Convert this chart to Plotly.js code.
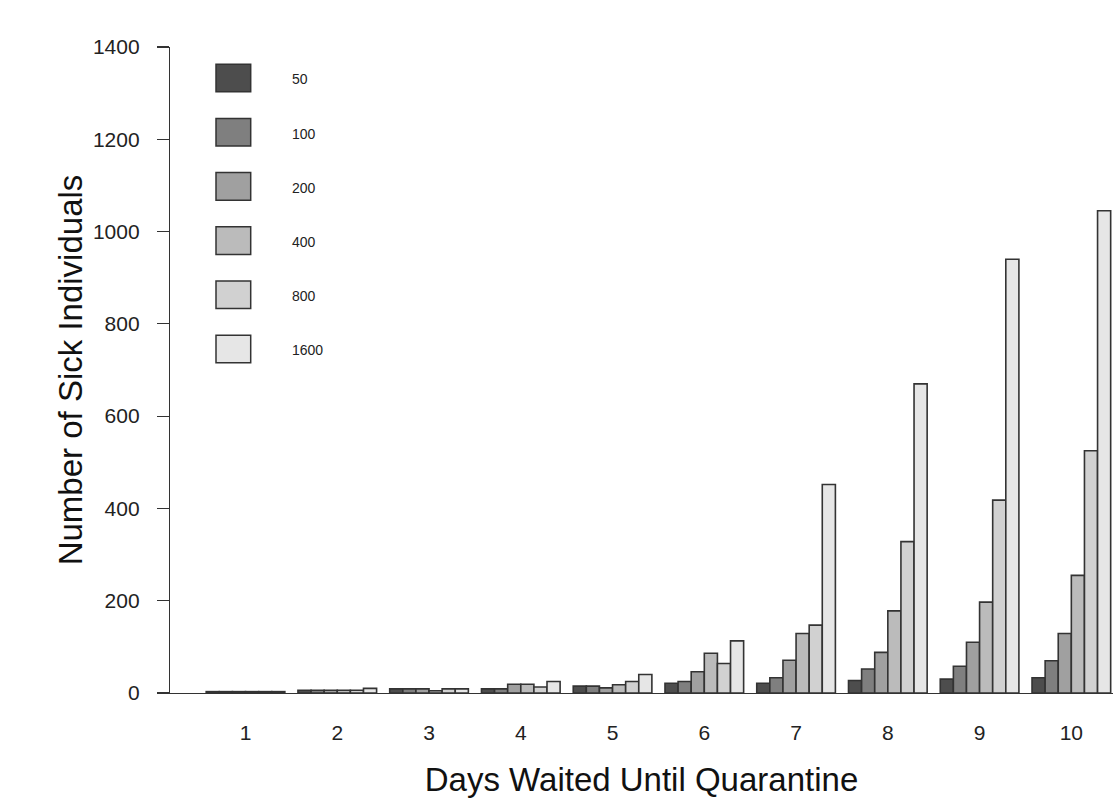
<!DOCTYPE html>
<html>
<head>
<meta charset="utf-8">
<script src="https://cdn.plot.ly/plotly-3.0.1.min.js"></script>
<style>html,body{margin:0;padding:0;background:#fff;overflow:hidden}</style>
</head>
<body>
<div id="chart" style="width:1113px;height:801px"></div>
<script>
// ---- data ----
const days = [1, 2, 3, 4, 5, 6, 7, 8, 9, 10];
const dayLabels = ["1", "2", "3", "4", "5", "6", "7", "8", "9", "10"];
const seriesNames = ["50", "100", "200", "400", "800", "1600"];
const s50   = [3, 6, 9, 9, 15, 21, 21, 27, 30, 33];
const s100  = [3, 6, 9, 9, 15, 25, 33, 52, 58, 70];
const s200  = [3, 6, 9, 19, 11, 46, 71, 88, 110, 129];
const s400  = [3, 6, 5, 19, 18, 86, 129, 178, 197, 255];
const s800  = [3, 6, 9, 13, 25, 64, 147, 328, 418, 525];
const s1600 = [3, 10, 9, 25, 40, 113, 452, 670, 940, 1045];
const yTicks = [0, 200, 400, 600, 800, 1000, 1200, 1400];

// ---- styles ----
const fills = ["#4D4D4D", "#7F7F7F", "#A0A0A0", "#BBBBBB", "#D1D1D1", "#E6E6E6"];
const edge = "#333333";
const font = "Liberation Sans, Arial, sans-serif";
const values = [s50, s100, s200, s400, s800, s1600];

const traces = values.map((v, i) => ({
  type: "bar",
  x: days,
  y: v,
  name: seriesNames[i],
  marker: {color: fills[i], line: {color: edge, width: 1.6}},
  showlegend: false,
  hoverinfo: "x+y+name"
}));

// plot area geometry (pixels) used to place the hand-drawn legend
const L = 170, T = 47, W = 943, H = 646;
const px = x => (x - L) / W;
const py = y => (T + H - y) / H;
const shapes = [], annotations = [];
seriesNames.forEach((n, i) => {
  const cy = 78 + 54.2 * i;
  shapes.push({type: "rect", xref: "paper", yref: "paper",
    x0: px(216), x1: px(250.7), y0: py(cy + 13.8), y1: py(cy - 13.8),
    fillcolor: fills[i], line: {color: edge, width: 1.5}});
  annotations.push({xref: "paper", yref: "paper", x: px(290), y: py(cy + 1.3),
    xanchor: "left", yanchor: "middle", text: n, showarrow: false,
    font: {family: font, size: 14, color: "#222"}});
});

const layout = {
  width: 1113, height: 801,
  margin: {l: L, r: 0, t: T, b: 801 - T - H, pad: 0},
  paper_bgcolor: "#fff", plot_bgcolor: "#fff",
  barmode: "group", bargap: 1 / 7, bargroupgap: 0,
  font: {family: font, color: "#222"},
  xaxis: {
    range: [0.177, 10.454],
    tickvals: days, ticktext: dayLabels,
    ticks: "", showgrid: false, zeroline: false,
    showline: true, linecolor: edge, linewidth: 1.2,
    tickfont: {family: font, size: 21, color: "#222"},
    ticklabelstandoff: 21,
    title: {text: "Days Waited Until Quarantine", font: {family: font, size: 33, color: "#111"}, standoff: 24},
    automargin: false
  },
  yaxis: {
    range: [0, 1400],
    tickvals: yTicks, ticktext: yTicks.map(String),
    ticks: "outside", ticklen: 12, tickcolor: edge, tickwidth: 1.2,
    showgrid: false, zeroline: false,
    showline: true, linecolor: edge, linewidth: 1.2,
    tickfont: {family: font, size: 21, color: "#222"},
    ticklabelstandoff: 13,
    title: {text: "Number of Sick Individuals", font: {family: font, size: 33, color: "#111"}, standoff: 0},
    automargin: false
  },
  shapes: shapes,
  annotations: annotations
};

Plotly.newPlot("chart", traces, layout, {displayModeBar: false, staticPlot: true});
</script>
</body>
</html>
